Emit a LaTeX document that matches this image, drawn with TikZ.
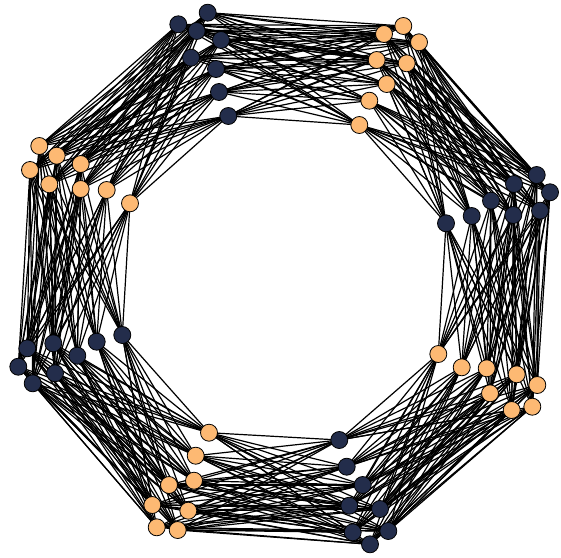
\documentclass[tikz,border=0pt]{standalone}
\usetikzlibrary{backgrounds}
\definecolor{navy}{RGB}{35,45,75}
\definecolor{peach}{RGB}{253,185,115}
\begin{document}
\begin{tikzpicture}[x=1pt,y=-1pt,
  vtx/.style={circle,draw=black,line width=0.8pt,minimum size=17pt,inner sep=0pt},
  dk/.style={vtx,fill=navy},
  lt/.style={vtx,fill=peach},
  edge/.style={line width=1.2pt,black}]
\useasboundingbox (0,0) rectangle (561,557);
% cluster 1 (top-left, dark)
\node[dk] (c1-1) at (207.7,12.7) {};
\node[dk] (c1-2) at (178.3,24.3) {};
\node[dk] (c1-3) at (196.7,31) {};
\node[dk] (c1-4) at (221,40) {};
\node[dk] (c1-5) at (191,57.7) {};
\node[dk] (c1-6) at (216,69) {};
\node[dk] (c1-7) at (219,92) {};
\node[dk] (c1-8) at (228.3,116) {};
% cluster 2 (top-right, orange)
\node[lt] (c2-1) at (403.3,26) {};
\node[lt] (c2-2) at (384,34) {};
\node[lt] (c2-3) at (419,42.3) {};
\node[lt] (c2-4) at (376.7,60) {};
\node[lt] (c2-5) at (406.7,63.3) {};
\node[lt] (c2-6) at (386.7,84) {};
\node[lt] (c2-7) at (369.3,100.7) {};
\node[lt] (c2-8) at (359.3,125) {};
% cluster 3 (right, dark)
\node[dk] (c3-1) at (536.7,175) {};
\node[dk] (c3-2) at (514,184) {};
\node[dk] (c3-3) at (550,192.3) {};
\node[dk] (c3-4) at (491,200.7) {};
\node[dk] (c3-5) at (540,210.7) {};
\node[dk] (c3-6) at (513.3,215) {};
\node[dk] (c3-7) at (471.7,216) {};
\node[dk] (c3-8) at (446,223.3) {};
% cluster 4 (bottom-right, orange)
\node[lt] (c4-1) at (438.3,354) {};
\node[lt] (c4-2) at (461.7,367.3) {};
\node[lt] (c4-3) at (486.7,368.3) {};
\node[lt] (c4-4) at (516.7,374.3) {};
\node[lt] (c4-5) at (537.3,385) {};
\node[lt] (c4-6) at (490,393.3) {};
\node[lt] (c4-7) at (511.7,410) {};
\node[lt] (c4-8) at (532.3,406.7) {};
% cluster 5 (bottom-right, dark)
\node[dk] (c5-1) at (339.3,440) {};
\node[dk] (c5-2) at (346.7,466.7) {};
\node[dk] (c5-3) at (362.7,485) {};
\node[dk] (c5-4) at (349.3,505.7) {};
\node[dk] (c5-5) at (380,509) {};
\node[dk] (c5-6) at (352.7,532.3) {};
\node[dk] (c5-7) at (388.3,531) {};
\node[dk] (c5-8) at (370,544.3) {};
% cluster 6 (bottom-left, orange)
\node[lt] (c6-1) at (209,432.7) {};
\node[lt] (c6-2) at (195.7,455.7) {};
\node[lt] (c6-3) at (169,485) {};
\node[lt] (c6-4) at (194,480.7) {};
\node[lt] (c6-5) at (152.3,505) {};
\node[lt] (c6-6) at (188.3,510.7) {};
\node[lt] (c6-7) at (156.7,527.3) {};
\node[lt] (c6-8) at (177.7,530) {};
% cluster 7 (left, dark)
\node[dk] (c7-1) at (122.3,335) {};
\node[dk] (c7-2) at (96.7,341.7) {};
\node[dk] (c7-3) at (53.3,343.3) {};
\node[dk] (c7-4) at (27.3,348.3) {};
\node[dk] (c7-5) at (77.3,355.7) {};
\node[dk] (c7-6) at (18.3,366.7) {};
\node[dk] (c7-7) at (55,373.3) {};
\node[dk] (c7-8) at (32.7,383.3) {};
% cluster 8 (left, orange)
\node[lt] (c8-1) at (39.3,146) {};
\node[lt] (c8-2) at (56.7,155.7) {};
\node[lt] (c8-3) at (80.7,164) {};
\node[lt] (c8-4) at (30,170) {};
\node[lt] (c8-5) at (49.3,184.3) {};
\node[lt] (c8-6) at (80.7,189) {};
\node[lt] (c8-7) at (106.7,190) {};
\node[lt] (c8-8) at (130,203.3) {};
\begin{pgfonlayer}{background}
\foreach \a/\b in {1/2,2/3,3/4,4/5,5/6,6/7,7/8,8/1}
  \foreach \i in {1,...,8}
    \foreach \j in {1,...,8}
      \draw[edge] (c\a-\i.center) -- (c\b-\j.center);
\end{pgfonlayer}
\end{tikzpicture}
\end{document}
